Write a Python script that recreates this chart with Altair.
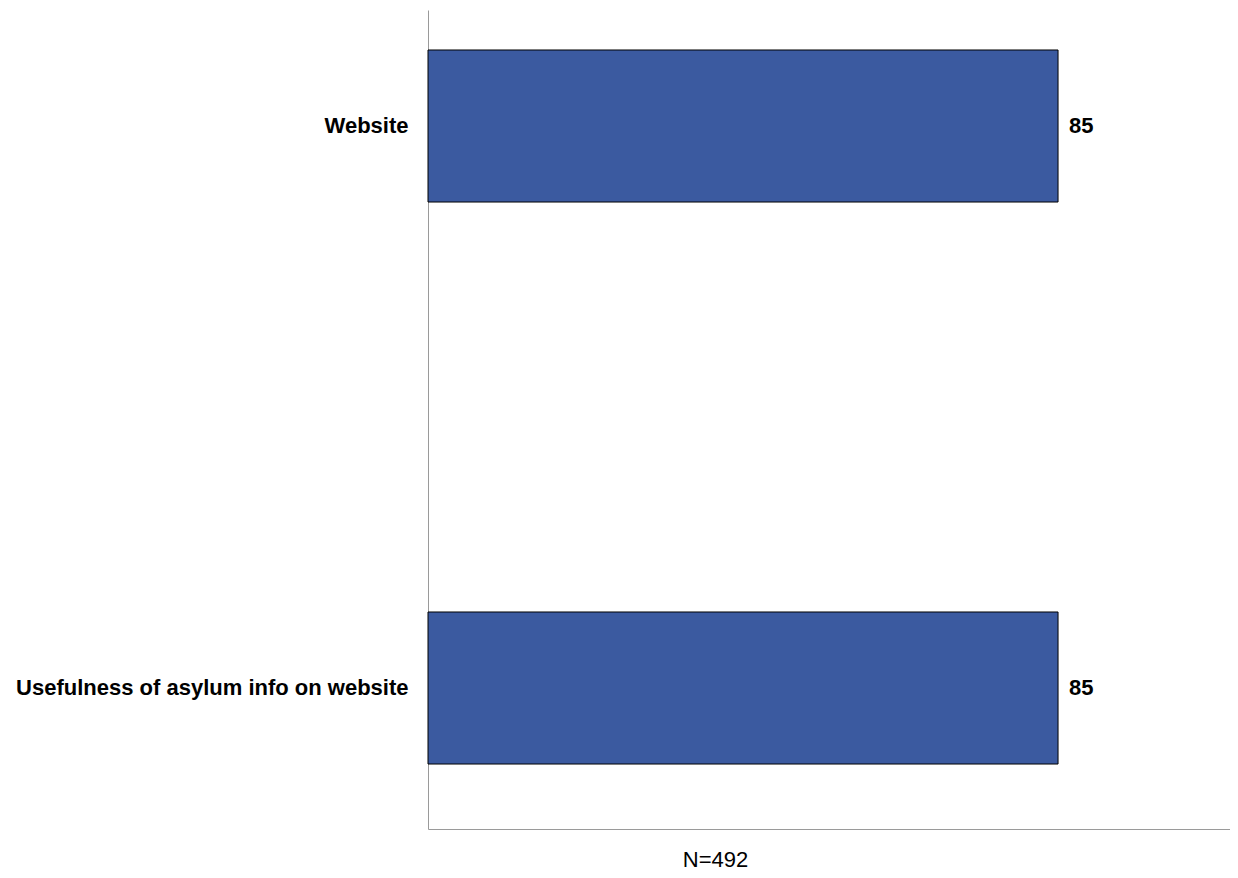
import altair as alt
import pandas as pd

categories = ["Website", "Usefulness of asylum info on website"]
values = [85, 85]
labels = ["85", "85"]
note = "N=492"

df = pd.DataFrame({"cat": categories, "val": values, "lab": labels})

FONT = "Liberation Sans"

y_enc = alt.Y(
    "cat:N",
    sort=categories,
    scale=alt.Scale(paddingInner=0.7295, paddingOuter=0.0934, align=0.381),
    axis=alt.Axis(
        title=None,
        ticks=False,
        domainColor="#9a9a9a",
        domainWidth=1,
        labelFont=FONT,
        labelFontSize=22,
        labelFontWeight="bold",
        labelColor="#000000",
        labelPadding=20,
        labelLimit=0,
    ),
)

x_enc = alt.X(
    "val:Q",
    scale=alt.Scale(domain=[0, 108.2], nice=False, zero=True),
    axis=alt.Axis(
        title=note,
        labels=False,
        ticks=False,
        grid=False,
        domainColor="#9a9a9a",
        domainWidth=1,
        titleFont=FONT,
        titleFontSize=22,
        titleFontWeight="normal",
        titleColor="#000000",
        titleX=287,
        titleY=37,
        titleAlign="center",
        titleBaseline="alphabetic",
    ),
)

bars = alt.Chart(df).mark_bar(
    color="#3B5AA0", stroke="#000000", strokeWidth=1
).encode(x=x_enc, y=y_enc)

text = alt.Chart(df).mark_text(
    align="left", baseline="middle", dx=11, font=FONT, fontSize=22,
    fontWeight="bold", color="#000000"
).encode(
    x=alt.X("val:Q"),
    y=alt.Y("cat:N", sort=categories),
    text="lab:N",
)

chart = (
    alt.layer(bars, text)
    .properties(
        width=802,
        height=819,
        autosize=alt.AutoSizeParams(type="none"),
        padding={"left": 420, "top": 2, "right": 0, "bottom": 41},
        background="#ffffff",
    )
    .configure_view(stroke=None)
)

chart.save("out.html", embed_options={"renderer": "svg", "actions": False})
